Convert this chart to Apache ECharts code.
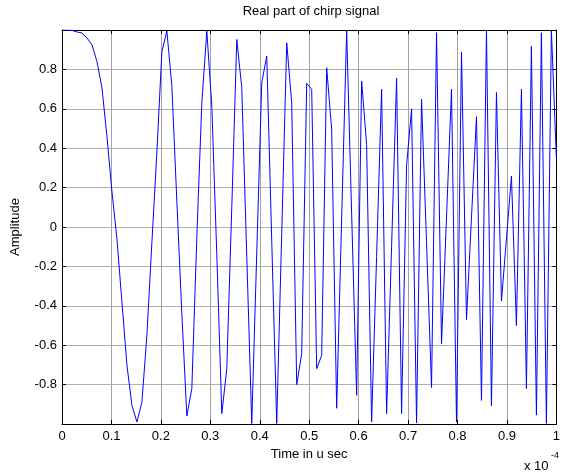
<!DOCTYPE html>
<html>
<head>
<meta charset="utf-8">
<script src="https://cdn.jsdelivr.net/npm/echarts@6/dist/echarts.min.js"></script>
<style>
  html, body { margin: 0; padding: 0; background: #ffffff; }
  #chart { width: 563px; height: 475px; }
</style>
</head>
<body>
<div id="chart"></div>
<script>
// Amplitude of each sample, 100 samples evenly spread over the time axis
const amplitude = [
  1.0, 1.0, 0.998, 0.99, 0.985, 0.96, 0.925, 0.84, 0.707, 0.46,
  0.18, -0.06, -0.38, -0.70, -0.905, -0.99, -0.89, -0.55, -0.08, 0.38,
  0.89, 0.995, 0.716, 0.13, -0.44, -0.96, -0.82, -0.05, 0.63, 0.994,
  0.614, -0.14, -0.947, -0.72, 0.1, 0.952, 0.707, -0.15, -0.997, -0.13,
  0.733, 0.868, -0.07, -0.997, -0.03, 0.935, 0.63, -0.80, -0.643, 0.729,
  0.699, -0.719, -0.651, 0.808, 0.496, -0.92, 0.04, 0.997, 0.07, -0.854,
  0.741, 0.42, -0.99, -0.15, 0.699, -0.947, -0.1, 0.755, -0.947, 0.31,
  0.60, -0.995, 0.648, -0.08, -0.815, 0.986, -0.593, 0.05, 0.70, -0.99,
  0.888, -0.47, 0.05, 0.56, -0.88, 0.997, -0.908, 0.683, -0.375, -0.06,
  0.258, -0.5, 0.699, -0.82, 0.917, -0.955, 0.986, -0.997, 0.997, 0.35
];
const timeStart = 0;      // in units of 1e-4 s
const timeEnd = 1;        // in units of 1e-4 s
const xTickValues = [0, 0.1, 0.2, 0.3, 0.4, 0.5, 0.6, 0.7, 0.8, 0.9, 1];
const xTickLabels = ['0', '0.1', '0.2', '0.3', '0.4', '0.5', '0.6', '0.7', '0.8', '0.9', '1'];
const yTickValues = [-0.8, -0.6, -0.4, -0.2, 0, 0.2, 0.4, 0.6, 0.8];
const yTickLabels = ['-0.8', '-0.6', '-0.4', '-0.2', '0', '0.2', '0.4', '0.6', '0.8'];

const nSamples = amplitude.length;
const seriesData = amplitude.map((a, i) => [timeStart + (timeEnd - timeStart) * i / (nSamples - 1), a]);

function labelFor(values, labels) {
  return function (v) {
    for (let i = 0; i < values.length; i++) {
      if (Math.abs(values[i] - v) < 1e-6) return labels[i];
    }
    return '';
  };
}

const FONT = 'Liberation Sans, Arial, Helvetica, sans-serif';
const FS = 13;
const chart = echarts.init(document.getElementById('chart'), null, { renderer: 'canvas' });

const gridL = 62, gridT = 30, gridW = 498, gridH = 394;

chart.setOption({
  animation: false,
  backgroundColor: '#ffffff',
  title: {
    text: 'Real part of chirp signal',
    left: gridL + gridW / 2,
    textAlign: 'center',
    top: 4,
    padding: 0,
    textStyle: { fontFamily: FONT, fontSize: FS, fontWeight: 'normal', color: '#000', lineHeight: 15 }
  },
  grid: { left: gridL, top: gridT, width: gridW, height: gridH, containLabel: false },
  xAxis: [
    {
      type: 'value', min: 0, max: 1, interval: 0.1, position: 'bottom',
      name: 'Time in u sec', nameLocation: 'middle', nameGap: 24,
      nameTextStyle: { fontFamily: FONT, fontSize: FS, color: '#000' },
      axisLine: { show: true, onZero: false, lineStyle: { color: '#000', width: 1 } },
      axisTick: { show: true, inside: true, length: 4, lineStyle: { color: '#000' } },
      axisLabel: { show: true, fontFamily: FONT, fontSize: FS, color: '#000', margin: 6,
                   formatter: labelFor(xTickValues, xTickLabels), showMinLabel: true, showMaxLabel: true },
      splitLine: { show: true, lineStyle: { color: '#a0a0a0', width: 1 } }
    },
    {
      type: 'value', min: 0, max: 1, interval: 0.1, position: 'top',
      axisLine: { show: true, onZero: false, lineStyle: { color: '#000', width: 1 } },
      axisTick: { show: true, inside: true, length: 4, lineStyle: { color: '#000' } },
      axisLabel: { show: false },
      splitLine: { show: false }
    }
  ],
  yAxis: [
    {
      type: 'value', min: -1, max: 1, interval: 0.2, position: 'left',
      name: 'Amplitude', nameLocation: 'middle', nameGap: 40, nameRotate: 90,
      nameTextStyle: { fontFamily: FONT, fontSize: FS, color: '#000' },
      axisLine: { show: true, onZero: false, lineStyle: { color: '#000', width: 1 } },
      axisTick: { show: true, inside: true, length: 4, lineStyle: { color: '#000' } },
      axisLabel: { show: true, fontFamily: FONT, fontSize: FS, color: '#000', margin: 5,
                   formatter: labelFor(yTickValues, yTickLabels) },
      splitLine: { show: true, lineStyle: { color: '#b0b0b0', width: 1 } }
    },
    {
      type: 'value', min: -1, max: 1, interval: 0.2, position: 'right',
      axisLine: { show: true, onZero: false, lineStyle: { color: '#000', width: 1 } },
      axisTick: { show: true, inside: true, length: 4, lineStyle: { color: '#000' } },
      axisLabel: { show: false },
      splitLine: { show: false }
    }
  ],
  series: [
    {
      type: 'line',
      xAxisIndex: 0, yAxisIndex: 0,
      data: seriesData,
      showSymbol: false,
      smooth: false,
      clip: true,
      lineStyle: { color: '#0000ff', width: 1 },
      z: 5
    }
  ],
  graphic: [
    {
      type: 'text',
      x: 524, y: 466,
      style: { text: 'x 10', fontFamily: FONT, fontSize: FS, fill: '#000', verticalAlign: 'middle', align: 'left' }
    },
    {
      type: 'text',
      x: 551, y: 456,
      style: { text: '-4', fontFamily: FONT, fontSize: 9, fill: '#000', verticalAlign: 'middle', align: 'left' }
    }
  ]
});
</script>
</body>
</html>
